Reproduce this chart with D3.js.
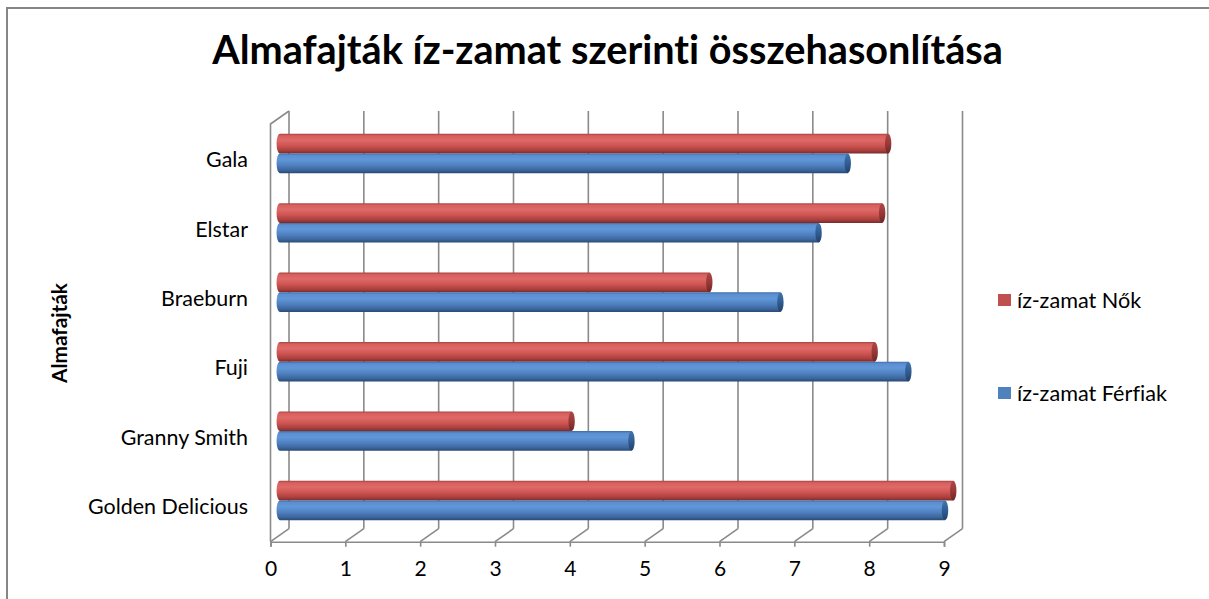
<!DOCTYPE html>
<html>
<head>
<meta charset="utf-8">
<script src="https://cdn.jsdelivr.net/npm/d3@7/dist/d3.min.js"></script>
<style>
  body { margin: 0; background: #fff; }
  svg text { font-family: Lato, "Open Sans", sans-serif; fill: #000; font-variant-ligatures: none; }
</style>
</head>
<body>
<svg id="chart" width="1209" height="599"></svg>
<script>
'use strict';

// data (first category sits at the bottom, like Excel does it)
const categories = ['Golden Delicious', 'Granny Smith', 'Fuji', 'Braeburn', 'Elstar', 'Gala'];
const seriesNames = ['íz-zamat Nők', 'íz-zamat Férfiak'];
const nok = [9.0, 3.9, 7.95, 5.74, 8.05, 8.13];
const ferfiak = [8.89, 4.7, 8.4, 6.69, 7.2, 7.59];
const tickValues = [0, 1, 2, 3, 4, 5, 6, 7, 8, 9];
const titleText = 'Almafajták íz-zamat szerinti összehasonlítása';
const axisTitle = 'Almafajták';

const svg = d3.select('#chart');
const gridColor = '#8a8a8a';

// 3d box: front plane and the offset to the back wall
const front = { left: 270.5, right: 944, top: 124, bottom: 541.7 };
const depth = { dx: 18.5, dy: -13 };

const x = d3.scaleLinear().domain([0, 9]).range([front.left, front.right]);
const y = d3.scaleBand()
  .domain(categories.slice().reverse())
  .range([front.top + 1.3, front.bottom])
  .paddingInner(0).paddingOuter(0);
const pairH = 39.4;
const yInner = d3.scaleBand().domain(seriesNames).range([0, pairH]);

// outer chart border (right and bottom edge are cut off in the picture)
svg.append('rect')
  .attr('x', 7).attr('y', 8)
  .attr('width', 1230).attr('height', 620)
  .attr('fill', 'none')
  .attr('stroke', '#868686')
  .attr('stroke-width', 2);

// gradients for the cylinders
const defs = svg.append('defs');
function addGrad(id, stops) {
  const g = defs.append('linearGradient')
    .attr('id', id).attr('x1', 0).attr('y1', 0).attr('x2', 0).attr('y2', 1);
  stops.forEach(function(s) {
    g.append('stop').attr('offset', s[0]).attr('stop-color', s[1]);
  });
}
addGrad('body-red', [[0, '#a64341'], [0.1, '#d85f5d'], [0.32, '#de6a68'], [0.6, '#cd5451'], [0.85, '#a83f3d'], [1, '#7a2b2a']]);
addGrad('body-blue', [[0, '#3d6ca4'], [0.1, '#5b8ed2'], [0.32, '#6197d8'], [0.6, '#4f80c0'], [0.85, '#3c659c'], [1, '#284a74']]);
addGrad('cap-red', [[0, '#b04644'], [0.5, '#98393a'], [1, '#6e2624']]);
addGrad('cap-blue', [[0, '#4174ae'], [0.5, '#315d92'], [1, '#22416a']]);

const colors = {
  'íz-zamat Nők': { body: 'url(#body-red)', cap: 'url(#cap-red)', legend: '#c0504d' },
  'íz-zamat Férfiak': { body: 'url(#body-blue)', cap: 'url(#cap-blue)', legend: '#4f81bd' }
};

// back wall gridlines
const grid = svg.append('g').attr('stroke', gridColor).attr('stroke-width', 1.6).attr('fill', 'none');
grid.selectAll('.vline').data(tickValues).enter().append('line')
  .attr('x1', d => x(d) + depth.dx).attr('x2', d => x(d) + depth.dx)
  .attr('y1', front.top + depth.dy).attr('y2', front.bottom + depth.dy);

// floor diagonals
grid.selectAll('.diag').data(tickValues).enter().append('line')
  .attr('x1', d => x(d)).attr('y1', front.bottom)
  .attr('x2', d => x(d) + depth.dx).attr('y2', front.bottom + depth.dy);

// left side wall
grid.append('path')
  .attr('d', 'M' + x(0) + ',' + front.bottom +
    'L' + x(0) + ',' + front.top +
    'L' + (x(0) + depth.dx) + ',' + (front.top + depth.dy));

// value axis along the front of the floor
const xAxis = svg.append('g')
  .attr('transform', 'translate(0,' + front.bottom + ')')
  .call(d3.axisBottom(x).tickValues(tickValues).tickSize(5).tickPadding(14).tickFormat(d3.format('d')));
xAxis.select('.domain').attr('stroke', gridColor).attr('stroke-width', 1.6);
xAxis.selectAll('.tick line').attr('stroke', gridColor).attr('stroke-width', 1.6);
xAxis.selectAll('.tick text').attr('font-size', 22).attr('fill', '#000');

// cylinders, drawn at mid depth
const rows = [];
categories.forEach(function(c, i) {
  rows.push({ cat: c, s: 'íz-zamat Nők', v: nok[i] });
  rows.push({ cat: c, s: 'íz-zamat Férfiak', v: ferfiak[i] });
});

const xm = v => x(v) + depth.dx / 2;
const barH = yInner.bandwidth();
const ry = barH / 2;
const rx = 3.2;
const yc = d => y(d.cat) + (y.bandwidth() - pairH) / 2 + yInner(d.s) + ry + depth.dy / 2;

const bars = svg.append('g').selectAll('g.bar').data(rows).enter().append('g').attr('class', 'bar');
bars.append('path')
  .attr('fill', d => colors[d.s].body)
  .attr('d', function(d) {
    const x0 = xm(0), x1 = xm(d.v), c = yc(d);
    return 'M' + x0 + ',' + (c - ry) + 'L' + x1 + ',' + (c - ry) +
      'L' + x1 + ',' + (c + ry) + 'L' + x0 + ',' + (c + ry) +
      'A' + rx + ',' + ry + ' 0 0 1 ' + x0 + ',' + (c - ry) + 'Z';
  });
bars.append('ellipse')
  .attr('cx', d => xm(d.v))
  .attr('cy', d => yc(d))
  .attr('rx', rx).attr('ry', ry)
  .attr('fill', d => colors[d.s].cap);

// category labels, right aligned, on the front plane
const catLabels = svg.append('g').selectAll('text').data(categories).enter().append('text')
  .attr('x', 248)
  .attr('y', d => y(d) + y.bandwidth() / 2)
  .attr('dy', '0.34em')
  .attr('text-anchor', 'end')
  .attr('font-size', 22)
  .text(d => d);

function fitWidth(node, target) {
  const sel = d3.select(node);
  const fs = parseFloat(sel.attr('font-size'));
  const w = node.getComputedTextLength();
  return fs * target / w;
}
const catSize = fitWidth(catLabels.filter(d => d === 'Golden Delicious').node(), 160);
catLabels.attr('font-size', catSize);
xAxis.selectAll('.tick text').attr('font-size', catSize * 0.98);

// title
const title = svg.append('text')
  .attr('x', 607.5).attr('y', 64)
  .attr('text-anchor', 'middle')
  .attr('font-weight', 'bold')
  .attr('font-size', 42)
  .text(titleText);
title.attr('font-size', fitWidth(title.node(), 791));

// vertical axis title
const yTitle = svg.append('text')
  .attr('transform', 'translate(66.5,333) rotate(-90)')
  .attr('text-anchor', 'middle')
  .attr('font-weight', 'bold')
  .attr('font-size', 21)
  .text(axisTitle);
yTitle.attr('font-size', fitWidth(yTitle.node(), 100));

// legend
const legendY = d3.scalePoint().domain(seriesNames).range([300, 393]);
const legend = svg.append('g').selectAll('g').data(seriesNames).enter().append('g')
  .attr('transform', d => 'translate(998,' + legendY(d) + ')');
legend.append('rect')
  .attr('x', 0).attr('y', -6)
  .attr('width', 13).attr('height', 12)
  .attr('fill', d => colors[d].legend);
const legendText = legend.append('text')
  .attr('x', 19).attr('dy', '0.35em')
  .attr('font-size', 21)
  .text(d => d);
const legSize = fitWidth(legendText.filter(d => d === 'íz-zamat Férfiak').node(), 150);
legendText.attr('font-size', legSize);
</script>
</body>
</html>
